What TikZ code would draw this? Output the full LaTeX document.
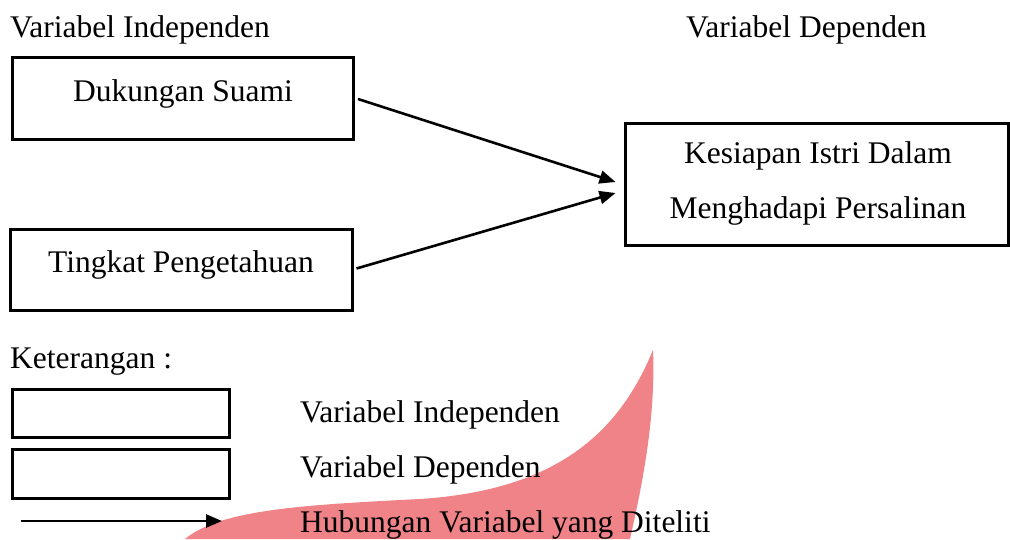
\documentclass[tikz,border=0pt]{standalone}
\usepackage{fontspec}
\setmainfont{Liberation Serif}
\usetikzlibrary{arrows.meta}
\definecolor{wmpink}{RGB}{239,131,136}
\begin{document}
\begin{tikzpicture}[x=1pt,y=-1pt,
  every node/.style={font=\fontsize{31.5}{38}\selectfont, inner sep=0pt},
  boxstyle/.style={draw=black, line width=3pt, minimum width=#1},
  lbl/.style={anchor=base west},
  ctext/.style={anchor=base},
  arr/.style={line width=2.6pt, -{Triangle[length=16pt,width=13pt]}}
]
\useasboundingbox (0,0) rectangle (1010,539);
% watermark-like pink shape
\fill[wmpink] (653,350) .. controls (656,420) and (641,490) .. (630,539)
  -- (185,539) .. controls (220,510) and (300,505) .. (420,499)
  .. controls (560,490) and (620,430) .. (653,350) -- cycle;

% headings
\node[lbl] (hind) at (10,37) {Variabel Independen};
\node[lbl] (hdep) at (686,37) {Variabel Dependen};

% boxes
\node[boxstyle=341pt, minimum height=82pt] (b1) at (183,98) {};
\node[ctext] (t1) at (183,101) {Dukungan Suami};
\node[boxstyle=342pt, minimum height=81pt] (b2) at (181,269.5) {};
\node[ctext] (t2) at (181,272) {Tingkat Pengetahuan};
\node[boxstyle=383pt, minimum height=122pt] (b3) at (816.5,184) {};
\node[ctext] (t3a) at (818,163) {Kesiapan Istri Dalam};
\node[ctext] (t3b) at (818,218) {Menghadapi Persalinan};

% arrows
\coordinate (e1) at ([xshift=-8pt,yshift=2pt]b3.west);
\coordinate (e2) at ([xshift=-8pt,yshift=-9pt]b3.west);
\draw[arr] ([xshift=3pt,yshift=-1pt]b1.east) -- (e1);
\draw[arr] ([xshift=3pt,yshift=1pt]b2.east) -- (e2);

% legend
\node[lbl] (ket) at (10,368) {Keterangan :};
\node[boxstyle=217pt, minimum height=48pt] (lb1) at (120.5,413) {};
\node[boxstyle=217pt, minimum height=49pt] (lb2) at (120.5,473.5) {};
\node[lbl] (l1) at (300,422) {Variabel Independen};
\node[lbl] (l2) at (300,477) {Variabel Dependen};
\node[lbl] (l3) at (300,532) {Hubungan Variabel yang Diteliti};
\coordinate (la) at (21,521);
\coordinate (lb) at (222,521);
\draw[arr] (la) -- (lb);
\end{tikzpicture}
\end{document}
